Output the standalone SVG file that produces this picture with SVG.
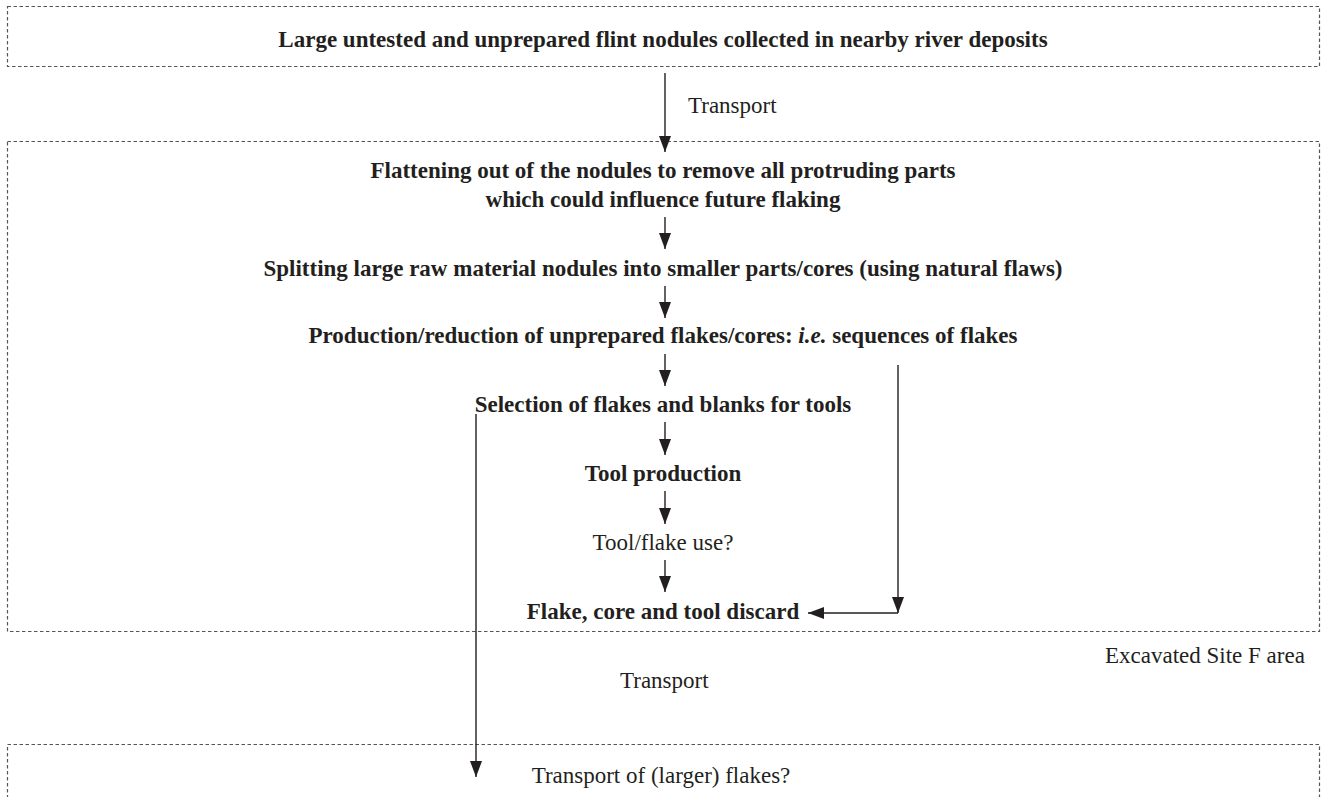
<svg xmlns="http://www.w3.org/2000/svg" width="1325" height="797" viewBox="0 0 1325 797">
<style>
.box{fill:none;stroke:#555;stroke-width:1.2;stroke-dasharray:3.5 2.5}
.t{font-family:"Liberation Serif","Times New Roman",serif;font-size:23px;fill:#231f20}
.b{font-weight:bold}
.c{text-anchor:middle}
.ln{fill:none;stroke:#231f20;stroke-width:1.4}
</style>
<defs>
<marker id="ah" markerUnits="userSpaceOnUse" markerWidth="18" markerHeight="14" refX="16" refY="6" orient="auto">
<path d="M0,0 L16,6 L0,12 Z" fill="#231f20"/>
</marker>
</defs>
<rect width="1325" height="797" fill="#fff"/>
<g id="box-source">
<rect class="box" x="7.5" y="6.5" width="1312" height="60"/>
<text class="t b c" x="663" y="47">Large untested and unprepared flint nodules collected in nearby river deposits</text>
</g>
<g id="box-site">
<rect class="box" x="7.5" y="141.5" width="1312" height="490"/>
<text class="t" x="1105" y="663">Excavated Site F area</text>
</g>
<g id="box-offsite">
<rect class="box" x="7.5" y="744.5" width="1312" height="80"/>
<text class="t c" x="661" y="783">Transport of (larger) flakes?</text>
</g>
<g id="n-flatten"><text class="t b c" x="663" y="178">Flattening out of the nodules to remove all protruding parts</text><text class="t b c" x="663" y="207">which could influence future flaking</text></g>
<g id="n-split"><text class="t b c" x="663" y="276">Splitting large raw material nodules into smaller parts/cores (using natural flaws)</text></g>
<g id="n-prod"><text class="t b c" x="663" y="343">Production/reduction of unprepared flakes/cores: <tspan font-style="italic">i.e.</tspan> sequences of flakes</text></g>
<g id="n-select"><text class="t b c" x="663" y="412">Selection of flakes and blanks for tools</text></g>
<g id="n-tool"><text class="t b c" x="663" y="481">Tool production</text></g>
<g id="n-use"><text class="t c" x="663" y="550">Tool/flake use?</text></g>
<g id="n-discard"><text class="t b c" x="663" y="619">Flake, core and tool discard</text></g>
<g id="labels">
<text class="t" x="688" y="113">Transport</text>
<text class="t" x="620" y="688">Transport</text>
</g>
<g id="connectors">
<path class="ln" d="M665,73 V152" marker-end="url(#ah)"/>
<path class="ln" d="M665,217 V249" marker-end="url(#ah)"/>
<path class="ln" d="M665,286 V318" marker-end="url(#ah)"/>
<path class="ln" d="M665,354 V386" marker-end="url(#ah)"/>
<path class="ln" d="M665,422 V455" marker-end="url(#ah)"/>
<path class="ln" d="M665,491 V524" marker-end="url(#ah)"/>
<path class="ln" d="M665,560 V592" marker-end="url(#ah)"/>
<path class="ln" d="M898,365 V613" marker-end="url(#ah)"/>
<path class="ln" d="M898,613 H808" marker-end="url(#ah)"/>
<path class="ln" d="M476,414 V777" marker-end="url(#ah)"/>
</g>
</svg>
